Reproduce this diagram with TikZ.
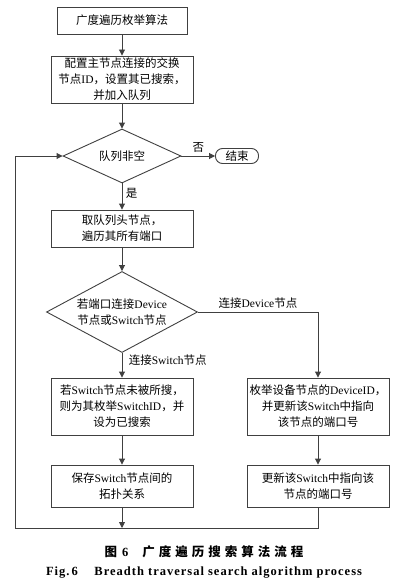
\documentclass[tikz,border=0pt]{standalone}
\usepackage{fontspec}
\setmainfont{Liberation Serif}
\newfontfamily\cjk{Noto Sans CJK SC}
\newfontfamily\capcjk[LetterSpace=32]{Noto Sans CJK SC}
\newfontfamily\capeng[LetterSpace=8]{Liberation Serif}
\newcommand{\eng}[1]{{\rmfamily #1}}
\usetikzlibrary{shapes.geometric, arrows.meta}

\begin{document}
\begin{tikzpicture}[x=1pt, y=-1pt,
    every node/.style={font=\cjk\fontsize{11.5}{16}\selectfont, align=center},
    stepbox/.style={draw=black!75, line width=0.9pt, minimum width=142pt, inner sep=2pt},
    test/.style={draw=black!75, line width=0.9pt, diamond, inner sep=0pt},
    flow/.style={-{Triangle[length=6pt, width=6pt]}, draw=black!75, line width=0.9pt},
    lbl/.style={font=\cjk\fontsize{11.5}{14}\selectfont}]
    \useasboundingbox (0,0) rectangle (405,586);

    \node[stepbox, minimum width=130pt, minimum height=27pt] (start) at (122,20.5) {广度遍历枚举算法};
    \node[stepbox, minimum height=47pt] (init) at (122,79.5) {配置主节点连接的交换\\节点\eng{ID}，设置其已搜索，\\并加入队列};
    \node[test, minimum width=118pt, minimum height=54pt, aspect=2.2] (nonempty) at (122,156) {队列非空};
    \node[draw=black!75, line width=0.9pt, rounded corners=7pt, minimum width=43pt, minimum height=15pt, inner sep=1pt] (stop) at (237,156) {结束};
    \node[stepbox, minimum height=37pt] (head) at (122,228.5) {取队列头节点，\\遍历其所有端口};
    \node[test, minimum width=151pt, minimum height=81pt, aspect=1.86] (port) at (122,312) {若端口连接\eng{Device}\\节点或\eng{Switch}节点};
    \node[stepbox, minimum height=57pt] (swnew) at (122,406.5) {若\eng{Switch}节点未被所搜，\\则为其枚举\eng{SwitchID}，并\\设为已搜索};
    \node[stepbox, minimum height=57pt] (devid) at (318,406.5) {枚举设备节点的\eng{DeviceID}，\\并更新该\eng{Switch}中指向\\该节点的端口号};
    \node[stepbox, minimum height=42pt] (topo) at (122,486) {保存\eng{Switch}节点间的\\拓扑关系};
    \node[stepbox, minimum height=42pt] (devport) at (318,486) {更新该\eng{Switch}中指向该\\节点的端口号};
    \coordinate (back) at (15,528);

    \draw[flow] (start) -- (init);
    \draw[flow] (init) -- (nonempty);
    \draw[flow] (nonempty) -- (stop) node[lbl, midway, above] {否};
    \draw[flow] (nonempty) -- (head) node[lbl, pos=0.37, right] {是};
    \draw[flow] (head) -- (port);
    \draw[flow] (port) -- (swnew) node[lbl, pos=0.3, right, xshift=3pt] {连接\eng{Switch}节点};
    \draw[flow] (port.east) -| (devid.north) node[lbl, pos=0.25, above] {连接\eng{Device}节点};
    \draw[flow] (swnew) -- (topo);
    \draw[flow] (devid) -- (devport);
    \draw[flow] (topo.south) -- (topo.south |- back);
    \draw[flow] (devport.south) |- (back) |- (nonempty.west);

    \node (cap) at (204,552) {\capcjk\bfseries\fontsize{12.5}{14}\selectfont 图\hspace{5pt}{\rmfamily\bfseries 6}\hspace{14pt}广度遍历搜索算法流程};
    \node (capen) at (204,573) {\capeng\bfseries\fontsize{12.5}{14}\selectfont Fig.\,6\quad\ Breadth traversal search algorithm process};
\end{tikzpicture}
\end{document}
